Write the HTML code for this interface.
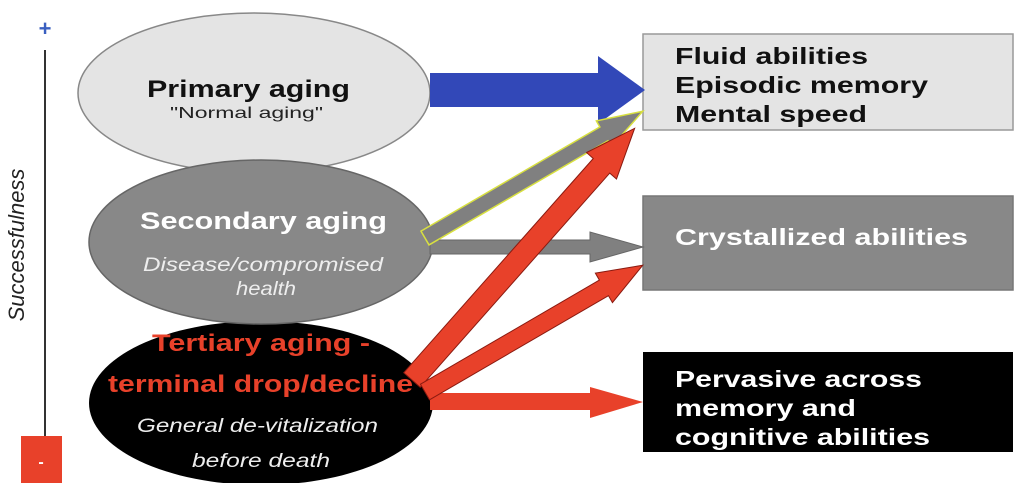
<!DOCTYPE html>
<html><head><meta charset="utf-8"><style>
html,body{margin:0;padding:0;background:#fff;}
svg{display:block;font-family:"Liberation Sans",Arial,sans-serif;}
</style></head><body>
<svg width="1024" height="483" viewBox="0 0 1024 483" xmlns="http://www.w3.org/2000/svg">
<rect width="1024" height="483" fill="#fff"/>
<text x="45" y="36" font-size="22" font-weight="bold" fill="#3a5fc0" text-anchor="middle">+</text>
<line x1="45" y1="50" x2="45" y2="437" stroke="#333" stroke-width="2"/>
<rect x="21" y="436" width="41" height="47" fill="#e8412a"/>
<text x="41" y="467" font-size="16" font-weight="bold" fill="#fff" text-anchor="middle">-</text>
<text transform="translate(24,245) rotate(-90)" font-size="22" font-style="italic" fill="#222" text-anchor="middle">Successfulness</text>
<ellipse cx="254" cy="93" rx="176" ry="80" fill="#e4e4e4" stroke="#888" stroke-width="1.5"/>
<ellipse cx="261" cy="403" rx="172" ry="82" fill="#000"/>
<ellipse cx="261" cy="242" rx="172" ry="82" fill="#888" stroke="#666" stroke-width="1.5"/>
<rect x="643" y="34" width="370" height="96" fill="#e4e4e4" stroke="#999" stroke-width="1.5"/>
<rect x="643" y="196" width="370" height="94" fill="#888" stroke="#777" stroke-width="1.5"/>
<rect x="643" y="352" width="370" height="100" fill="#000"/>
<polygon points="430,73 598,73 598,56 645,90 598,124 598,107 430,107" fill="#3248b8"/>
<polygon points="430,240 590,240 590,232 643,247 590,262 590,254 430,254" fill="#808080" stroke="#666" stroke-width="1"/>
<polygon points="430,393 590,393 590,387 643,402 590,418 590,410 430,410" fill="#e8412a"/>
<g transform="translate(425,238) rotate(-30.2)">
<polygon points="0,-8 207,-8 207,-15 252,0 207,15 207,8 0,8" fill="#808080" stroke="#d8e040" stroke-width="1.5"/>
</g>
<g transform="translate(412,380) rotate(-48.5)">
<polygon points="0,-11 286,-11 286,-20 336,0 286,20 286,11 0,11" fill="#e8412a" stroke="#8a1a10" stroke-width="1"/>
</g>
<g transform="translate(425,392) rotate(-30.2)">
<polygon points="0,-9 207,-9 207,-17 252,0 207,17 207,9 0,9" fill="#e8412a" stroke="#8a1a10" stroke-width="1"/>
</g>
<text x="147" y="97" font-size="24" font-weight="bold" fill="#111" textLength="203" lengthAdjust="spacingAndGlyphs">Primary aging</text>
<text x="170" y="118" font-size="16" fill="#222" textLength="153" lengthAdjust="spacingAndGlyphs">"Normal aging"</text>
<text x="140" y="229" font-size="24" font-weight="bold" fill="#fff" textLength="247" lengthAdjust="spacingAndGlyphs">Secondary aging</text>
<text x="143" y="271" font-size="19" font-style="italic" fill="#eee" textLength="240" lengthAdjust="spacingAndGlyphs">Disease/compromised</text>
<text x="236" y="295" font-size="19" font-style="italic" fill="#eee" textLength="60" lengthAdjust="spacingAndGlyphs">health</text>
<text x="152" y="351" font-size="24" font-weight="bold" fill="#e8412a" textLength="218" lengthAdjust="spacingAndGlyphs">Tertiary aging -</text>
<text x="108" y="392" font-size="24" font-weight="bold" fill="#e8412a" textLength="305" lengthAdjust="spacingAndGlyphs">terminal drop/decline</text>
<text x="137" y="432" font-size="19" font-style="italic" fill="#eee" textLength="241" lengthAdjust="spacingAndGlyphs">General de-vitalization</text>
<text x="192" y="467" font-size="19" font-style="italic" fill="#eee" textLength="138" lengthAdjust="spacingAndGlyphs">before death</text>
<g font-size="23" font-weight="bold">
<text x="675" y="64" fill="#111" textLength="193" lengthAdjust="spacingAndGlyphs">Fluid abilities</text>
<text x="675" y="93" fill="#111" textLength="253" lengthAdjust="spacingAndGlyphs">Episodic memory</text>
<text x="675" y="122" fill="#111" textLength="192" lengthAdjust="spacingAndGlyphs">Mental speed</text>
<text x="675" y="245" fill="#fff" textLength="293" lengthAdjust="spacingAndGlyphs">Crystallized abilities</text>
<text x="675" y="387" fill="#fff" textLength="247" lengthAdjust="spacingAndGlyphs">Pervasive across</text>
<text x="675" y="416" fill="#fff" textLength="181" lengthAdjust="spacingAndGlyphs">memory and</text>
<text x="675" y="445" fill="#fff" textLength="255" lengthAdjust="spacingAndGlyphs">cognitive abilities</text>
</g>
</svg>
</body></html>
